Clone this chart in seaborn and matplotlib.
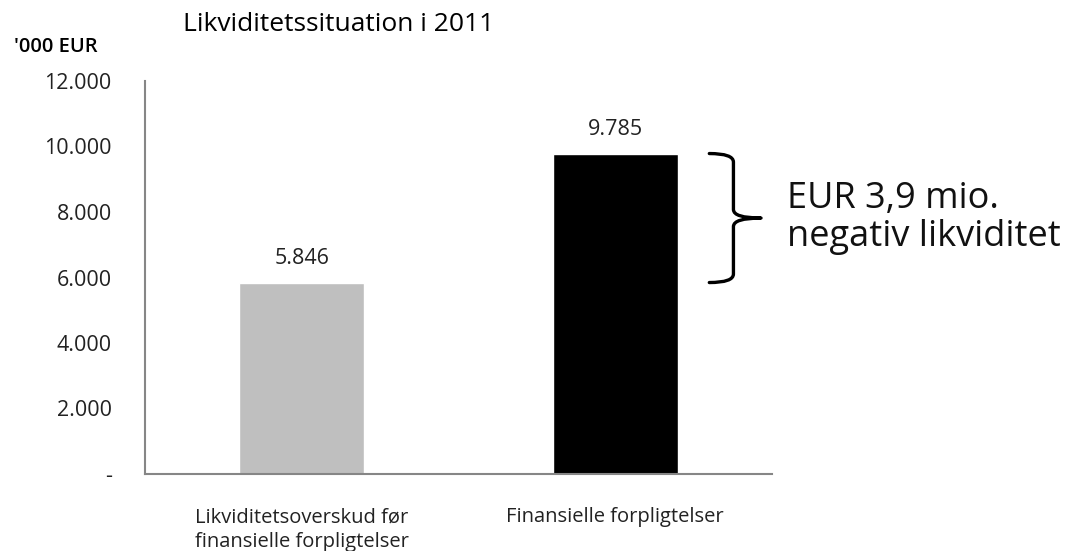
import matplotlib
matplotlib.use("Agg")
import matplotlib.pyplot as plt
from matplotlib.path import Path
from matplotlib.patches import PathPatch
from matplotlib.ticker import FuncFormatter
import pandas as pd
import seaborn as sns

categories = ["Likviditetsoverskud før\nfinansielle forpligtelser", "Finansielle forpligtelser"]
values = [5846, 9785]
bar_colors = ["#bfbfbf", "#000000"]
y_ticks = [0, 2000, 4000, 6000, 8000, 10000, 12000]

sns.set_style("white")
plt.rcParams["font.family"] = ["Open Sans", "DejaVu Sans"]

df = pd.DataFrame({"kategori": categories, "vaerdi": values})

fig = plt.figure(figsize=(10.7, 5.51), dpi=100)
ax = fig.add_axes([145 / 1070, 77 / 551, 627 / 1070, 393 / 551])

sns.barplot(data=df, x="kategori", y="vaerdi", hue="kategori", palette=bar_colors,
            width=0.4, legend=False, ax=ax, saturation=1)

def fmt(v, pos):
    if v == 0:
        return "-"
    return f"{int(v):,}".replace(",", ".")

ax.set_ylim(0, 12000)
ax.set_xlim(-0.5, 1.5)
ax.set_yticks(y_ticks)
ax.yaxis.set_major_formatter(FuncFormatter(fmt))
ax.tick_params(axis="y", length=0, pad=24, labelsize=15.5, colors="#222222")
ax.tick_params(axis="x", length=0, pad=24, labelsize=14.5, colors="#222222")
for lbl in ax.get_xticklabels():
    lbl.set_multialignment("left")
    lbl.set_linespacing(1.3)
ax.set_xlabel("")
ax.set_ylabel("")
sns.despine(ax=ax)
for side in ["left", "bottom"]:
    ax.spines[side].set_color("#868686")
    ax.spines[side].set_linewidth(1.5)

for cont in ax.containers:
    ax.bar_label(cont, labels=[fmt(v, None) for v in cont.datavalues], padding=10,
                 fontsize=15.5, color="#222222")

# brace between the two bar heights
top, bot = max(values), min(values)
mid = (top + bot) / 2
x0, xv, xt = 1.30, 1.377, 1.465
r = 260
verts = [(x0, top), (xv, top), (xv, top - r),
         (xv, mid + r),
         (xv, mid), (xt, mid),
         (xv, mid), (xv, mid - r),
         (xv, bot + r),
         (xv, bot), (x0, bot)]
codes = [Path.MOVETO, Path.CURVE3, Path.CURVE3,
         Path.LINETO,
         Path.CURVE3, Path.CURVE3,
         Path.CURVE3, Path.CURVE3,
         Path.LINETO,
         Path.CURVE3, Path.CURVE3]
ax.add_patch(PathPatch(Path(verts, codes), fill=False, lw=2.4, color="black",
                       clip_on=False, capstyle="round", joinstyle="round"))
ax.text(1.547, mid, "EUR 3,9 mio.\nnegativ likviditet", fontsize=26, va="center",
        ha="left", color="#111111", linespacing=1.05, clip_on=False)

fig.text(183 / 1070, 1 - 31 / 551, "Likviditetssituation i 2011", fontsize=19,
         va="baseline", ha="left", color="black")
fig.text(14 / 1070, 1 - 52 / 551, "'000 EUR", fontsize=14.5, fontweight="semibold",
         va="baseline", ha="left", color="black")

fig.savefig("out.png", dpi=100)
